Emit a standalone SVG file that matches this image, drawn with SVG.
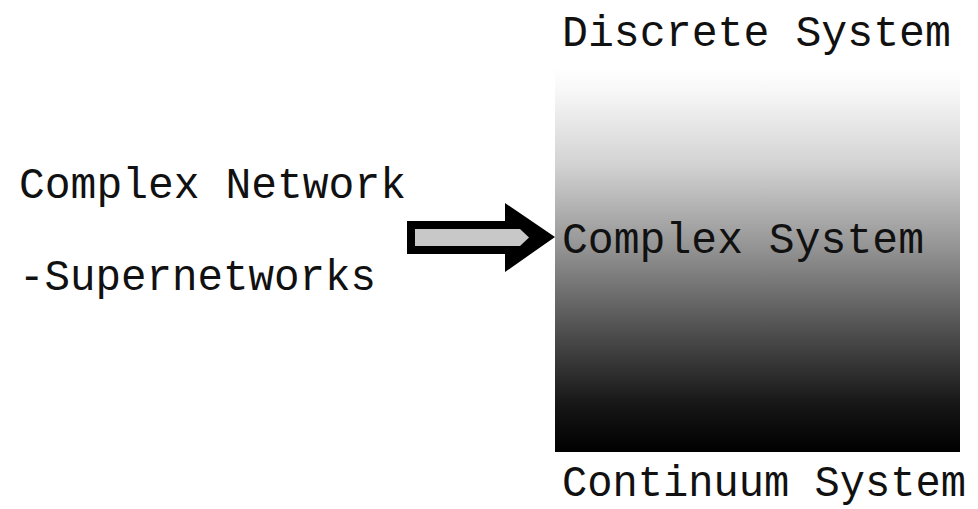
<svg xmlns="http://www.w3.org/2000/svg" width="978" height="509" viewBox="0 0 978 509">
  <style>
    .t { font-family: "Liberation Mono", "DejaVu Sans Mono", monospace; font-size: 45px; fill: #111; }
  </style>
  <defs>
    <linearGradient id="g" x1="0" y1="0" x2="0" y2="1">
      <stop offset="0" stop-color="#fefefe"/>
      <stop offset="0.05" stop-color="#f8f8f8"/>
      <stop offset="0.25" stop-color="#d2d2d2"/>
      <stop offset="0.47" stop-color="#929292"/>
      <stop offset="0.7" stop-color="#4a4a4a"/>
      <stop offset="0.88" stop-color="#151515"/>
      <stop offset="1" stop-color="#000000"/>
    </linearGradient>
  </defs>
  <rect width="978" height="509" fill="#ffffff"/>
  <g id="system">
    <rect x="555" y="70" width="405" height="382" fill="url(#g)"/>
    <text class="t" x="562" y="46" textLength="389" lengthAdjust="spacingAndGlyphs">Discrete System</text>
    <text class="t" x="562" y="253" textLength="362" lengthAdjust="spacingAndGlyphs">Complex System</text>
    <text class="t" x="562" y="496" font-size="44" textLength="404" lengthAdjust="spacingAndGlyphs">Continuum System</text>
  </g>
  <g id="network">
    <text class="t" x="19" y="198" textLength="387" lengthAdjust="spacingAndGlyphs">Complex Network</text>
    <text class="t" x="19" y="290" textLength="357" lengthAdjust="spacingAndGlyphs">-Supernetworks</text>
  </g>
  <g id="connectors">
    <polygon points="407,221 505,221 505,203 555,237 505,272 505,254 407,254" fill="#000"/>
    <polygon points="415,229 520,229 529,237.5 520,246 415,246" fill="#c8c8c8"/>
  </g>
</svg>
